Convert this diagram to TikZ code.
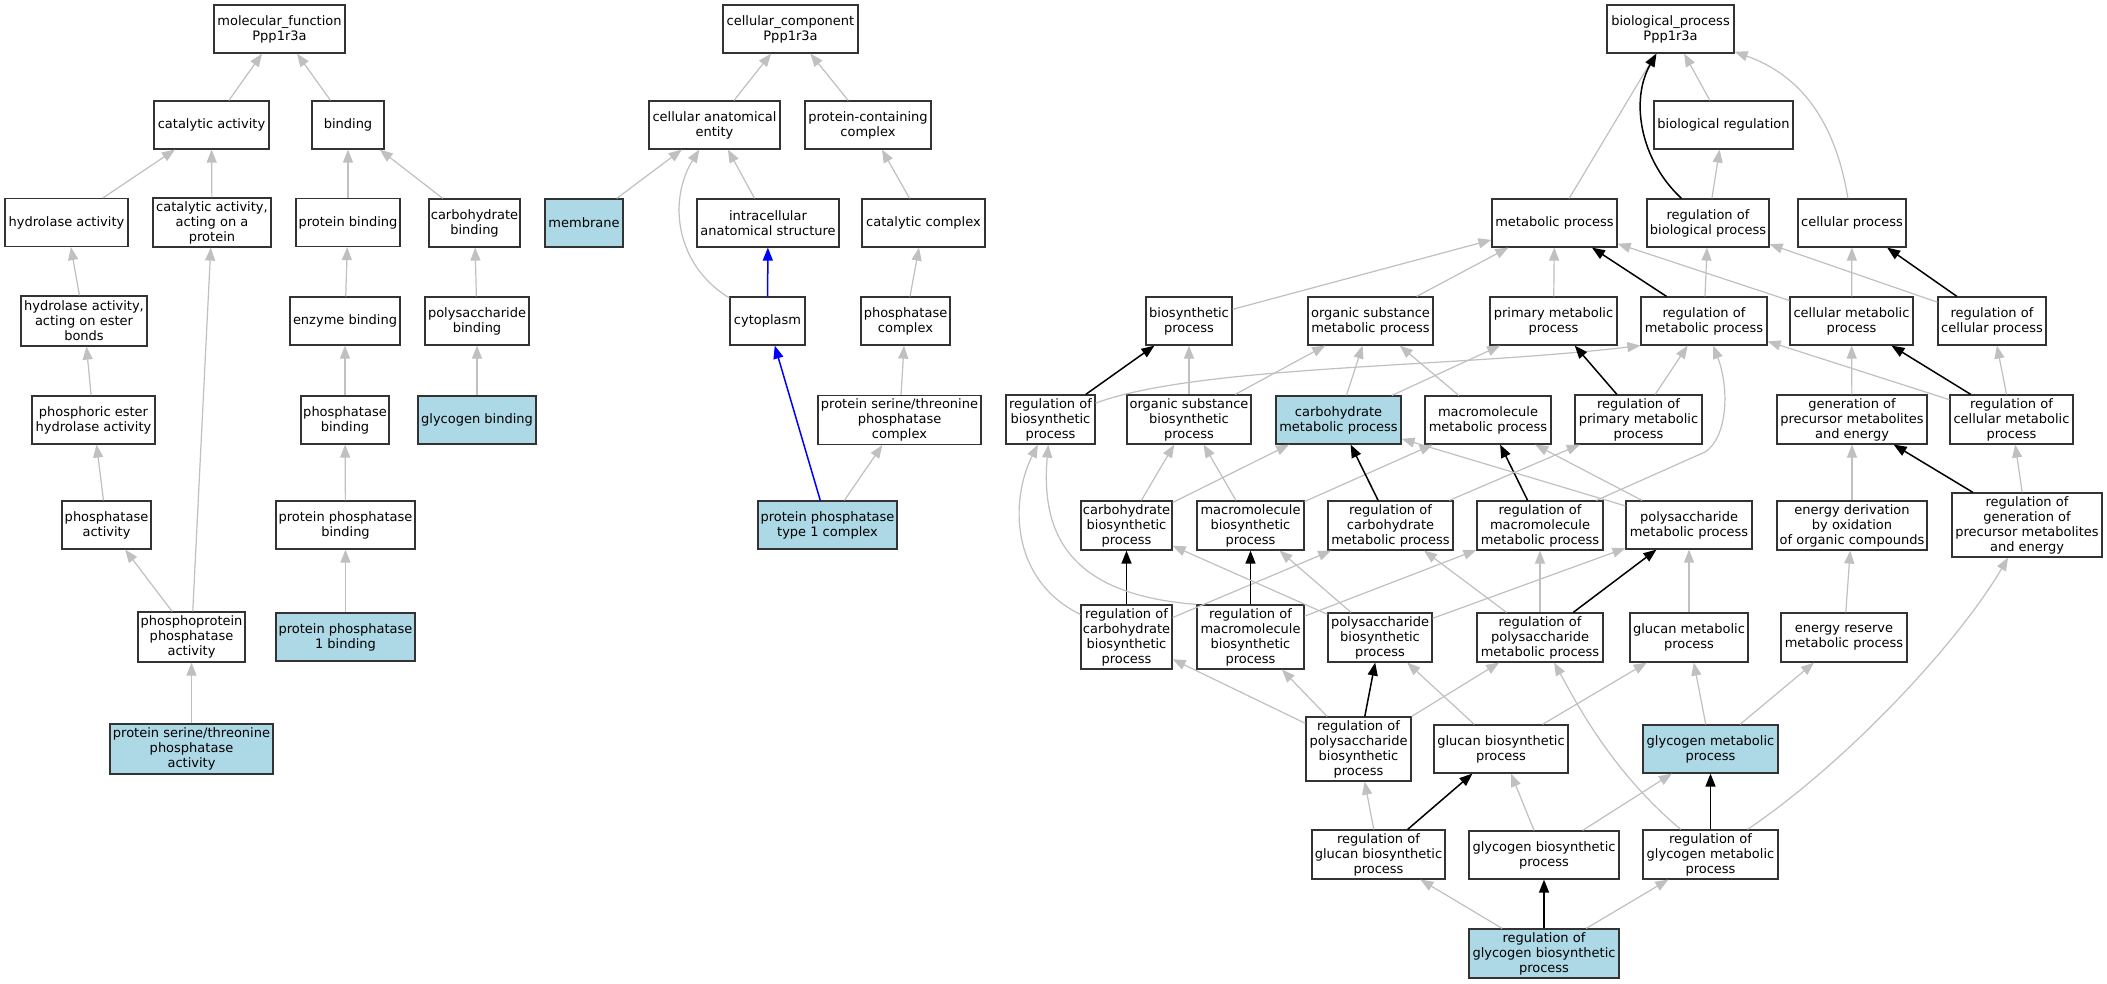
\documentclass[tikz,border=0pt]{standalone}
\usepackage{fontspec}
\setmainfont{DejaVu Sans}
\usetikzlibrary{arrows.meta}
\definecolor{lb}{HTML}{ADD8E6}
\definecolor{eg}{HTML}{C0C0C0}
\newcommand\bxfont{\fontsize{13}{15}\selectfont}
\begin{document}
\begin{tikzpicture}[x=1pt,y=-1pt,
  bx/.style={draw=black!80, line width=1.2pt, fill=white, rectangle, inner sep=0pt, align=center, font=\bxfont, minimum height=48pt},
  hl/.style={fill=lb},
  ge/.style={draw=eg, line width=1.2pt, -{Triangle[length=13pt,width=10pt]}},
  be/.style={draw=black, line width=1.5pt, -{Triangle[length=13pt,width=10pt]}},
  ue/.style={draw=blue, line width=1.5pt, -{Triangle[length=13pt,width=10pt]}}]
\fill[white] (0,0) rectangle (2107,984);
\useasboundingbox (0,0) rectangle (2107,984);
% ---------- molecular function ----------
\node[bx, minimum width=131pt] (mf) at (279.5,29) {molecular\_function\\Ppp1r3a};
\node[bx, minimum width=115pt] (cat) at (211.5,125) {catalytic activity};
\node[bx, minimum width=72pt] (bind) at (348,125) {binding};
\node[bx, minimum width=123pt] (hyd) at (66.5,222.5) {hydrolase activity};
\node[bx, minimum width=118pt, minimum height=49pt] (catp) at (212,222.5) {catalytic activity,\\acting on a\\protein};
\node[bx, minimum width=104pt] (pbind) at (348,222.5) {protein binding};
\node[bx, minimum width=91pt] (cbind) at (474.5,223) {carbohydrate\\binding};
\node[bx, minimum width=126pt, minimum height=50pt] (hest) at (84,321) {hydrolase activity,\\acting on ester\\bonds};
\node[bx, minimum width=110pt] (ebind) at (345,321) {enzyme binding};
\node[bx, minimum width=104pt] (psbind) at (477,321) {polysaccharide\\binding};
\node[bx, minimum width=123pt] (phest) at (93.5,420) {phosphoric ester\\hydrolase activity};
\node[bx, minimum width=88pt] (phbind) at (345,420) {phosphatase\\binding};
\node[bx, hl, minimum width=118pt] (gbind) at (477,420) {glycogen binding};
\node[bx, minimum width=89pt] (phact) at (106.5,525) {phosphatase\\activity};
\node[bx, minimum width=139pt] (ppbind) at (345.5,525) {protein phosphatase\\binding};
\node[bx, minimum width=107pt, minimum height=50pt] (ppact) at (191.5,637) {phosphoprotein\\phosphatase\\activity};
\node[bx, hl, minimum width=139pt] (pp1bind) at (345.5,637) {protein phosphatase\\1 binding};
\node[bx, hl, minimum width=163pt, minimum height=50pt] (pstact) at (191.5,749) {protein serine/threonine\\phosphatase\\activity};
% ---------- cellular component ----------
\node[bx, minimum width=135pt] (cc) at (790.5,29) {cellular\_component\\Ppp1r3a};
\node[bx, minimum width=131pt] (cae) at (714.5,125) {cellular anatomical\\entity};
\node[bx, minimum width=126pt] (pcc) at (868,125) {protein-containing\\complex};
\node[bx, hl, minimum width=78pt] (memb) at (584,223) {membrane};
\node[bx, minimum width=142pt] (ias) at (768,223) {intracellular\\anatomical structure};
\node[bx, minimum width=123pt] (catc) at (923.5,223) {catalytic complex};
\node[bx, minimum width=75pt] (cyto) at (767.5,321) {cytoplasm};
\node[bx, minimum width=89pt] (phc) at (905.5,321) {phosphatase\\complex};
\node[bx, minimum width=163pt, minimum height=49pt] (pstc) at (899.5,420) {protein serine/threonine\\phosphatase\\complex};
\node[bx, hl, minimum width=139pt] (pp1c) at (827.5,525) {protein phosphatase\\type 1 complex};
% ---------- biological process ----------
\node[bx, minimum width=127pt] (bp) at (1670.5,29) {biological\_process\\Ppp1r3a};
\node[bx, minimum width=139pt] (breg) at (1723.5,125) {biological regulation};
\node[bx, minimum width=125pt] (met) at (1554.5,223) {metabolic process};
\node[bx, minimum width=122pt] (rbp) at (1708,223) {regulation of\\biological process};
\node[bx, minimum width=108pt] (cp) at (1852,223) {cellular process};
\node[bx, minimum width=86pt] (bios) at (1189,321) {biosynthetic\\process};
\node[bx, minimum width=125pt] (osm) at (1370.5,321) {organic substance\\metabolic process};
\node[bx, minimum width=127pt] (pm) at (1553.5,321) {primary metabolic\\process};
\node[bx, minimum width=126pt] (rmp) at (1704,321) {regulation of\\metabolic process};
\node[bx, minimum width=123pt] (cmp) at (1851.5,321) {cellular metabolic\\process};
\node[bx, minimum width=108pt] (rcp) at (1992,321) {regulation of\\cellular process};
\node[bx, minimum width=89pt, minimum height=49pt] (rbios) at (1050.5,419.5) {regulation of\\biosynthetic\\process};
\node[bx, minimum width=124pt, minimum height=49pt] (osb) at (1189,419.5) {organic substance\\biosynthetic\\process};
\node[bx, hl, minimum width=125pt] (carbm) at (1338.5,420) {carbohydrate\\metabolic process};
\node[bx, minimum width=126pt] (macm) at (1488,420) {macromolecule\\metabolic process};
\node[bx, minimum width=127pt, minimum height=49pt] (rpm) at (1638.5,419.5) {regulation of\\primary metabolic\\process};
\node[bx, minimum width=150pt, minimum height=49pt] (gpme) at (1852,419.5) {generation of\\precursor metabolites\\and energy};
\node[bx, minimum width=123pt, minimum height=49pt] (rcmp) at (2011.5,419.5) {regulation of\\cellular metabolic\\process};
\node[bx, minimum width=91pt, minimum height=49pt] (carbb) at (1126.5,525.5) {carbohydrate\\biosynthetic\\process};
\node[bx, minimum width=107pt, minimum height=49pt] (macb) at (1250.5,525.5) {macromolecule\\biosynthetic\\process};
\node[bx, minimum width=125pt, minimum height=49pt] (rcarbm) at (1390.5,525.5) {regulation of\\carbohydrate\\metabolic process};
\node[bx, minimum width=126pt, minimum height=49pt] (rmacm) at (1540,525.5) {regulation of\\macromolecule\\metabolic process};
\node[bx, minimum width=126pt] (psm) at (1689,525) {polysaccharide\\metabolic process};
\node[bx, minimum width=150pt, minimum height=49pt] (edo) at (1852,525.5) {energy derivation\\by oxidation\\of organic compounds};
\node[bx, minimum width=150pt, minimum height=64pt] (rgpme) at (2027,525) {regulation of\\generation of\\precursor metabolites\\and energy};
\node[bx, minimum width=91pt, minimum height=64pt] (rcarbb) at (1126.5,637) {regulation of\\carbohydrate\\biosynthetic\\process};
\node[bx, minimum width=107pt, minimum height=64pt] (rmacb) at (1250.5,637) {regulation of\\macromolecule\\biosynthetic\\process};
\node[bx, minimum width=104pt, minimum height=49pt] (psb) at (1380,637.5) {polysaccharide\\biosynthetic\\process};
\node[bx, minimum width=126pt, minimum height=49pt] (rpsm) at (1540,637.5) {regulation of\\polysaccharide\\metabolic process};
\node[bx, minimum width=118pt, minimum height=49pt] (glm) at (1689,637.5) {glucan metabolic\\process};
\node[bx, minimum width=126pt, minimum height=49pt] (erm) at (1844,637.5) {energy reserve\\metabolic process};
\node[bx, minimum width=105pt, minimum height=64pt] (rpsb) at (1358.5,749) {regulation of\\polysaccharide\\biosynthetic\\process};
\node[bx, minimum width=134pt] (glb) at (1501,749) {glucan biosynthetic\\process};
\node[bx, hl, minimum width=135pt] (gm) at (1710.5,749) {glycogen metabolic\\process};
\node[bx, minimum width=133pt, minimum height=49pt] (rglb) at (1378.5,854.5) {regulation of\\glucan biosynthetic\\process};
\node[bx, minimum width=150pt] (gb) at (1544,855) {glycogen biosynthetic\\process};
\node[bx, minimum width=135pt, minimum height=49pt] (rgm) at (1710.5,854.5) {regulation of\\glycogen metabolic\\process};
\node[bx, hl, minimum width=150pt, minimum height=49pt] (rgb) at (1544,953.5) {regulation of\\glycogen biosynthetic\\process};
% ---------- MF edges ----------
\draw[ge] (cat) -- (mf);
\draw[ge] (bind) -- (mf);
\draw[ge] (hyd) -- (cat);
\draw[ge] (catp) -- (cat);
\draw[ge] (pbind) -- (bind);
\draw[ge] (cbind) -- (bind);
\draw[ge] (hest) -- (hyd);
\draw[ge] (ebind) -- (pbind);
\draw[ge] (psbind) -- (cbind);
\draw[ge] (phest) -- (hest);
\draw[ge] (phbind) -- (ebind);
\draw[ge] (gbind) -- (psbind);
\draw[ge] (phact) -- (phest);
\draw[ge] (ppbind) -- (phbind);
\draw[ge] (ppact) -- (phact);
\draw[ge] (ppact) -- (catp);
\draw[ge] (pp1bind) -- (ppbind);
\draw[ge] (pstact) -- (ppact);
% ---------- CC edges ----------
\draw[ge] (cae) -- (cc);
\draw[ge] (pcc) -- (cc);
\draw[ge] (memb) -- (cae);
\draw[ge] (cyto) .. controls (675,265) and (668,200) .. (cae);
\draw[ge] (ias) -- (cae);
\draw[ge] (catc) -- (pcc);
\draw[ue] (cyto) -- (ias);
\draw[ge] (phc) -- (catc);
\draw[ge] (pstc) -- (phc);
\draw[ue] (pp1c) -- (cyto);
\draw[ge] (pp1c) -- (pstc);
% ---------- BP edges ----------
\draw[ge] (met) -- (bp);
\draw[be] (rbp) .. controls (1640,160) and (1630,100) .. (bp);
\draw[ge] (breg) -- (bp);
\draw[ge] (cp) .. controls (1835,120) and (1800,75) .. (bp);
\draw[ge] (rbp) -- (breg);
\draw[ge] (bios) -- (met);
\draw[ge] (osm) -- (met);
\draw[ge] (pm) -- (met);
\draw[be] (rmp) -- (met);
\draw[ge] (rmp) -- (rbp);
\draw[ge] (cmp) -- (met);
\draw[ge] (cmp) -- (cp);
\draw[ge] (rcp) -- (rbp);
\draw[be] (rcp) -- (cp);
\draw[be] (rbios) -- (bios);
\draw[ge] (rbios) .. controls (1200,365) and (1450,368) .. (rmp.south west);
\draw[ge] (osb) -- (bios);
\draw[ge] (osb) -- (osm);
\draw[ge] (carbm) -- (osm);
\draw[ge] (carbm) -- (pm);
\draw[ge] (macm) -- (osm);
\draw[be] (rpm) -- (pm);
\draw[ge] (rpm) -- (rmp);
\draw[ge] (gpme) -- (cmp);
\draw[ge] (rcmp) -- (rmp);
\draw[be] (rcmp) -- (cmp);
\draw[ge] (rcmp) -- (rcp);
\draw[ge] (carbb) -- (osb);
\draw[ge] (carbb) -- (carbm);
\draw[ge] (macb) -- (osb);
\draw[ge] (macb) -- (macm);
\draw[be] (rcarbm) -- (carbm);
\draw[ge] (rcarbm) -- (rpm);
\draw[be] (rmacm) -- (macm);
\draw[ge] (rmacm) -- (1705,452) .. controls (1727,438) and (1730,390) .. (rmp);
\draw[ge] (psm) -- (carbm);
\draw[ge] (psm) -- (macm);
\draw[ge] (edo) -- (gpme);
\draw[be] (rgpme) -- (gpme);
\draw[ge] (rgpme) -- (rcmp);
\draw[be] (rcarbb) -- (carbb);
\draw[ge] (rcarbb) -- (rcarbm);
\draw[ge] (rcarbb) .. controls (1010,580) and (1010,500) .. (rbios);
\draw[be] (rmacb) -- (macb);
\draw[ge] (rmacb) -- (rmacm);
\draw[ge] (rmacb.north west) .. controls (1075,595) and (1040,540) .. (rbios);
\draw[ge] (psb) -- (carbb);
\draw[ge] (psb) -- (macb);
\draw[ge] (psb) -- (psm);
\draw[ge] (rpsm) -- (rcarbm);
\draw[ge] (rpsm) -- (rmacm);
\draw[be] (rpsm) -- (psm);
\draw[ge] (glm) -- (psm);
\draw[ge] (erm) -- (edo);
\draw[ge] (rpsb) -- (rcarbb);
\draw[ge] (rpsb) -- (rmacb);
\draw[be] (rpsb) -- (psb);
\draw[ge] (rpsb) -- (rpsm);
\draw[ge] (glb) -- (psb);
\draw[ge] (glb) -- (glm);
\draw[ge] (gm) -- (glm);
\draw[ge] (gm) -- (erm);
\draw[ge] (rglb) -- (rpsb);
\draw[be] (rglb) -- (glb);
\draw[ge] (gb) -- (glb);
\draw[ge] (gb) -- (gm);
\draw[be] (rgm) -- (gm);
\draw[ge] (rgm) .. controls (1850,760) and (1960,640) .. (rgpme);
\draw[ge] (rgm) .. controls (1610,770) and (1575,700) .. (rpsm);
\draw[ge] (rgb) -- (rglb);
\draw[be] (rgb) -- (gb);
\draw[ge] (rgb) -- (rgm);
\end{tikzpicture}
\end{document}
